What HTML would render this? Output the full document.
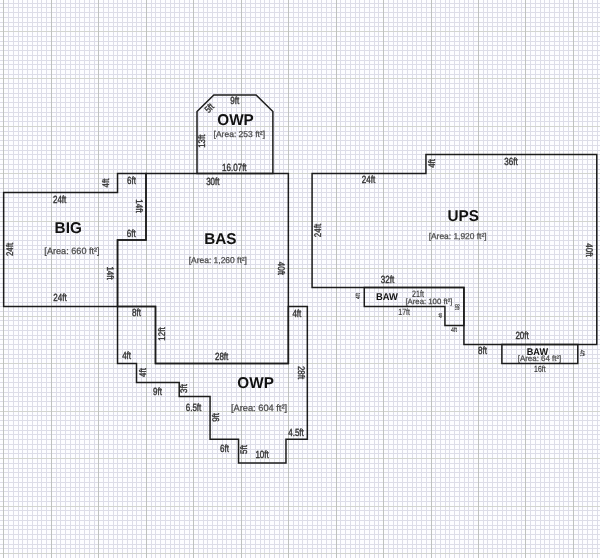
<!DOCTYPE html>
<html><head><meta charset="utf-8"><style>
html,body{margin:0;padding:0;background:#fff;}
body{width:600px;height:558px;overflow:hidden;}
svg{display:block;will-change:transform;}
text{font-family:"Liberation Sans",sans-serif;text-rendering:geometricPrecision;}
.b{font-weight:bold;fill:#111111}.a{fill:#444444;stroke:#555;stroke-width:0.25px}.n{fill:#333333;stroke:#333;stroke-width:0.3px}
</style></head><body>
<svg width="600" height="558" viewBox="0 0 600 558">
<rect width="600" height="558" fill="#fdfdff"/>
<path d="M8.50 0V558M13.50 0V558M18.50 0V558M22.50 0V558M27.50 0V558M32.50 0V558M37.50 0V558M41.50 0V558M46.50 0V558M56.50 0V558M60.50 0V558M65.50 0V558M70.50 0V558M75.50 0V558M79.50 0V558M84.50 0V558M89.50 0V558M94.50 0V558M103.50 0V558M108.50 0V558M113.50 0V558M117.50 0V558M122.50 0V558M127.50 0V558M132.50 0V558M136.50 0V558M141.50 0V558M151.50 0V558M155.50 0V558M160.50 0V558M165.50 0V558M170.50 0V558M174.50 0V558M179.50 0V558M184.50 0V558M189.50 0V558M198.50 0V558M203.50 0V558M207.50 0V558M212.50 0V558M217.50 0V558M222.50 0V558M226.50 0V558M231.50 0V558M236.50 0V558M245.50 0V558M250.50 0V558M255.50 0V558M260.50 0V558M264.50 0V558M269.50 0V558M274.50 0V558M279.50 0V558M283.50 0V558M293.50 0V558M298.50 0V558M302.50 0V558M307.50 0V558M312.50 0V558M317.50 0V558M321.50 0V558M326.50 0V558M331.50 0V558M340.50 0V558M345.50 0V558M350.50 0V558M355.50 0V558M359.50 0V558M364.50 0V558M369.50 0V558M374.50 0V558M378.50 0V558M388.50 0V558M393.50 0V558M397.50 0V558M402.50 0V558M407.50 0V558M412.50 0V558M416.50 0V558M421.50 0V558M426.50 0V558M435.50 0V558M440.50 0V558M445.50 0V558M449.50 0V558M454.50 0V558M459.50 0V558M464.50 0V558M468.50 0V558M473.50 0V558M483.50 0V558M487.50 0V558M492.50 0V558M497.50 0V558M502.50 0V558M506.50 0V558M511.50 0V558M516.50 0V558M521.50 0V558M530.50 0V558M535.50 0V558M540.50 0V558M544.50 0V558M549.50 0V558M554.50 0V558M559.50 0V558M563.50 0V558M568.50 0V558M578.50 0V558M582.50 0V558M587.50 0V558M592.50 0V558M597.50 0V558M0 3.50H600M0 7.50H600M0 12.50H600M0 17.50H600M0 22.50H600M0 26.50H600M0 36.50H600M0 41.50H600M0 45.50H600M0 50.50H600M0 55.50H600M0 60.50H600M0 64.50H600M0 69.50H600M0 74.50H600M0 83.50H600M0 88.50H600M0 93.50H600M0 97.50H600M0 102.50H600M0 107.50H600M0 112.50H600M0 116.50H600M0 121.50H600M0 131.50H600M0 135.50H600M0 140.50H600M0 145.50H600M0 150.50H600M0 154.50H600M0 159.50H600M0 164.50H600M0 169.50H600M0 178.50H600M0 183.50H600M0 188.50H600M0 192.50H600M0 197.50H600M0 202.50H600M0 207.50H600M0 211.50H600M0 216.50H600M0 226.50H600M0 230.50H600M0 235.50H600M0 240.50H600M0 245.50H600M0 249.50H600M0 254.50H600M0 259.50H600M0 264.50H600M0 273.50H600M0 278.50H600M0 283.50H600M0 287.50H600M0 292.50H600M0 297.50H600M0 302.50H600M0 306.50H600M0 311.50H600M0 320.50H600M0 325.50H600M0 330.50H600M0 335.50H600M0 339.50H600M0 344.50H600M0 349.50H600M0 354.50H600M0 358.50H600M0 368.50H600M0 373.50H600M0 377.50H600M0 382.50H600M0 387.50H600M0 392.50H600M0 396.50H600M0 401.50H600M0 406.50H600M0 415.50H600M0 420.50H600M0 425.50H600M0 430.50H600M0 434.50H600M0 439.50H600M0 444.50H600M0 449.50H600M0 453.50H600M0 463.50H600M0 468.50H600M0 472.50H600M0 477.50H600M0 482.50H600M0 487.50H600M0 491.50H600M0 496.50H600M0 501.50H600M0 510.50H600M0 515.50H600M0 520.50H600M0 525.50H600M0 529.50H600M0 534.50H600M0 539.50H600M0 544.50H600M0 548.50H600M0 558.50H600" stroke="#dddde8" stroke-width="1.00" fill="none"/>
<path d="M0 31.50H600M0 78.50H600M0 126.50H600M0 173.50H600M0 221.50H600M0 268.50H600M0 316.50H600M0 363.50H600M0 411.50H600M0 458.50H600M0 506.50H600M0 553.50H600" stroke="#d3d5cf" stroke-width="1" fill="none"/>
<path d="M3.50 0V558M51.50 0V558M98.50 0V558M146.50 0V558M193.50 0V558M241.50 0V558M288.50 0V558M336.50 0V558M383.50 0V558M431.50 0V558M478.50 0V558M525.50 0V558M573.50 0V558" stroke="#bfc2bf" stroke-width="1" fill="none"/>
<g fill="none" stroke="#1c1c1c" stroke-width="1.5" stroke-linejoin="miter">
<polygon points="3.65,192.58 117.53,192.58 117.53,173.60 146.00,173.60 146.00,240.03 117.53,240.03 117.53,306.46 3.65,306.46"/>
<polygon points="146.00,173.60 288.35,173.60 288.35,363.40 155.49,363.40 155.49,306.46 117.53,306.46 117.53,240.03 146.00,240.03"/>
<polygon points="197.01,173.60 197.01,111.44 213.85,94.88 256.08,94.88 272.88,111.44 272.88,173.60"/>
<polygon points="117.53,306.46 117.53,363.40 136.51,363.40 136.51,382.38 179.22,382.38 179.22,396.62 210.06,396.62 210.06,439.32 238.53,439.32 238.53,463.04 285.98,463.04 285.98,439.32 307.33,439.32 307.33,306.46 288.35,306.46 288.35,363.40 155.49,363.40 155.49,306.46"/>
<polygon points="312.08,173.60 425.95,173.60 425.95,154.62 596.78,154.62 596.78,344.42 463.92,344.42 463.92,287.48 312.08,287.48"/>
<polygon points="364.27,287.48 463.92,287.48 463.92,325.44 444.94,325.44 444.94,306.46 364.27,306.46"/>
<polygon points="501.88,344.42 577.80,344.42 577.80,363.40 501.88,363.40"/>
</g>
<text class="n" font-size="8.00" text-anchor="middle" dominant-baseline="central" transform="translate(234.78 101.16) scale(1 1.300)">9ft</text>
<text class="n" font-size="8.00" text-anchor="middle" dominant-baseline="central" transform="translate(209.43 108.26) rotate(-45) scale(1 1.200)">5ft</text>
<text class="b" font-size="15.30" text-anchor="middle" dominant-baseline="central" transform="translate(235.53 120.19) scale(1 1.020)">OWP</text>
<text class="a" font-size="8.51" text-anchor="middle" dominant-baseline="central" transform="translate(239.31 134.21)">[Area: 253 ft²]</text>
<text class="n" font-size="8.00" text-anchor="middle" dominant-baseline="central" transform="translate(202.21 141.17) rotate(-90) scale(1 1.200)">13ft</text>
<text class="n" font-size="8.00" text-anchor="middle" dominant-baseline="central" transform="translate(234.34 167.97) scale(1 1.300)">16.07ft</text>
<text class="n" font-size="8.00" text-anchor="middle" dominant-baseline="central" transform="translate(212.84 181.81) scale(1 1.300)">30ft</text>
<text class="n" font-size="8.00" text-anchor="middle" dominant-baseline="central" transform="translate(105.97 182.97) rotate(-90) scale(1 1.200)">4ft</text>
<text class="n" font-size="8.00" text-anchor="middle" dominant-baseline="central" transform="translate(131.50 180.71) scale(1 1.300)">6ft</text>
<text class="n" font-size="8.00" text-anchor="middle" dominant-baseline="central" transform="translate(59.62 199.74) scale(1 1.300)">24ft</text>
<text class="n" font-size="8.00" text-anchor="middle" dominant-baseline="central" transform="translate(139.00 206.03) rotate(90) scale(1 1.200)">14ft</text>
<text class="b" font-size="15.30" text-anchor="middle" dominant-baseline="central" transform="translate(68.19 228.64) scale(1 1.020)">BIG</text>
<text class="a" font-size="9.14" text-anchor="middle" dominant-baseline="central" transform="translate(72.00 250.55)">[Area: 660 ft²]</text>
<text class="n" font-size="8.00" text-anchor="middle" dominant-baseline="central" transform="translate(10.16 249.45) rotate(-90) scale(1 1.200)">24ft</text>
<text class="n" font-size="8.00" text-anchor="middle" dominant-baseline="central" transform="translate(131.31 233.50) scale(1 1.300)">6ft</text>
<text class="b" font-size="15.30" text-anchor="middle" dominant-baseline="central" transform="translate(220.31 239.52) scale(1 1.020)">BAS</text>
<text class="a" font-size="8.46" text-anchor="middle" dominant-baseline="central" transform="translate(217.81 259.53)">[Area: 1,260 ft²]</text>
<text class="n" font-size="8.00" text-anchor="middle" dominant-baseline="central" transform="translate(281.07 268.41) rotate(90) scale(1 1.200)">40ft</text>
<text class="n" font-size="8.00" text-anchor="middle" dominant-baseline="central" transform="translate(110.21 273.05) rotate(90) scale(1 1.200)">14ft</text>
<text class="n" font-size="8.00" text-anchor="middle" dominant-baseline="central" transform="translate(59.93 298.22) scale(1 1.300)">24ft</text>
<text class="n" font-size="8.00" text-anchor="middle" dominant-baseline="central" transform="translate(136.50 313.00) scale(1 1.300)">8ft</text>
<text class="n" font-size="8.00" text-anchor="middle" dominant-baseline="central" transform="translate(162.00 334.00) rotate(-90) scale(1 1.200)">12ft</text>
<text class="n" font-size="8.00" text-anchor="middle" dominant-baseline="central" transform="translate(296.83 313.88) scale(1 1.300)">4ft</text>
<text class="n" font-size="8.00" text-anchor="middle" dominant-baseline="central" transform="translate(126.62 355.76) scale(1 1.300)">4ft</text>
<text class="n" font-size="8.00" text-anchor="middle" dominant-baseline="central" transform="translate(221.62 356.33) scale(1 1.300)">28ft</text>
<text class="n" font-size="8.00" text-anchor="middle" dominant-baseline="central" transform="translate(300.62 372.55) rotate(90) scale(1 1.200)">28ft</text>
<text class="n" font-size="8.00" text-anchor="middle" dominant-baseline="central" transform="translate(142.90 372.50) rotate(-90) scale(1 1.200)">4ft</text>
<text class="b" font-size="15.30" text-anchor="middle" dominant-baseline="central" transform="translate(255.62 383.90) scale(1 1.020)">OWP</text>
<text class="n" font-size="8.00" text-anchor="middle" dominant-baseline="central" transform="translate(157.43 391.45) scale(1 1.300)">9ft</text>
<text class="n" font-size="8.00" text-anchor="middle" dominant-baseline="central" transform="translate(184.43 388.50) rotate(-90) scale(1 1.200)">3ft</text>
<text class="n" font-size="8.00" text-anchor="middle" dominant-baseline="central" transform="translate(193.50 407.95) scale(1 1.300)">6.5ft</text>
<text class="a" font-size="9.29" text-anchor="middle" dominant-baseline="central" transform="translate(259.00 408.31)">[Area: 604 ft²]</text>
<text class="n" font-size="8.00" text-anchor="middle" dominant-baseline="central" transform="translate(216.12 417.38) rotate(-90) scale(1 1.200)">9ft</text>
<text class="n" font-size="8.00" text-anchor="middle" dominant-baseline="central" transform="translate(296.00 432.28) scale(1 1.300)">4.5ft</text>
<text class="n" font-size="8.00" text-anchor="middle" dominant-baseline="central" transform="translate(224.50 448.90) scale(1 1.300)">6ft</text>
<text class="n" font-size="8.00" text-anchor="middle" dominant-baseline="central" transform="translate(244.05 449.50) rotate(-90) scale(1 1.200)">5ft</text>
<text class="n" font-size="8.00" text-anchor="middle" dominant-baseline="central" transform="translate(262.05 455.00) scale(1 1.300)">10ft</text>
<text class="n" font-size="8.00" text-anchor="middle" dominant-baseline="central" transform="translate(432.45 163.38) rotate(-90) scale(1 1.200)">4ft</text>
<text class="n" font-size="8.00" text-anchor="middle" dominant-baseline="central" transform="translate(511.00 161.26) scale(1 1.300)">36ft</text>
<text class="n" font-size="8.00" text-anchor="middle" dominant-baseline="central" transform="translate(368.52 179.97) scale(1 1.300)">24ft</text>
<text class="b" font-size="15.30" text-anchor="middle" dominant-baseline="central" transform="translate(463.10 215.95) scale(1 1.020)">UPS</text>
<text class="a" font-size="8.41" text-anchor="middle" dominant-baseline="central" transform="translate(457.62 235.81)">[Area: 1,920 ft²]</text>
<text class="n" font-size="8.00" text-anchor="middle" dominant-baseline="central" transform="translate(318.17 230.48) rotate(-90) scale(1 1.200)">24ft</text>
<text class="n" font-size="8.00" text-anchor="middle" dominant-baseline="central" transform="translate(589.02 250.00) rotate(90) scale(1 1.200)">40ft</text>
<text class="n" font-size="8.00" text-anchor="middle" dominant-baseline="central" transform="translate(387.52 280.00) scale(1 1.300)">32ft</text>
<text class="b" font-size="9.40" text-anchor="middle" dominant-baseline="central" transform="translate(387.00 296.17) scale(1 1.060)">BAW</text>
<text style="stroke-width:0.12px" class="n" font-size="7.11" text-anchor="middle" dominant-baseline="central" transform="translate(417.93 294.33) scale(1 1.300)">21ft</text>
<text class="a" font-size="7.77" text-anchor="middle" dominant-baseline="central" transform="translate(428.93 301.17)">[Area: 100 ft²]</text>
<text style="stroke-width:0.12px" class="n" font-size="5.32" text-anchor="middle" dominant-baseline="central" transform="translate(358.97 296.00) rotate(-90) scale(1 1.200)">4ft</text>
<text style="stroke-width:0.12px" class="n" font-size="5.32" text-anchor="middle" dominant-baseline="central" transform="translate(456.55 307.00) rotate(90) scale(1 1.200)">8ft</text>
<text style="stroke-width:0.12px" class="n" font-size="6.94" text-anchor="middle" dominant-baseline="central" transform="translate(404.12 313.02) scale(1 1.300)">17ft</text>
<text style="stroke-width:0.12px" class="n" font-size="3.97" text-anchor="middle" dominant-baseline="central" transform="translate(440.64 315.50) rotate(-90) scale(1 1.200)">4ft</text>
<text style="stroke-width:0.12px" class="n" font-size="5.32" text-anchor="middle" dominant-baseline="central" transform="translate(454.00 330.73) scale(1 1.300)">4ft</text>
<text class="n" font-size="8.00" text-anchor="middle" dominant-baseline="central" transform="translate(522.05 336.02) scale(1 1.300)">20ft</text>
<text class="n" font-size="8.00" text-anchor="middle" dominant-baseline="central" transform="translate(482.53 351.22) scale(1 1.300)">8ft</text>
<text class="b" font-size="9.15" text-anchor="middle" dominant-baseline="central" transform="translate(537.38 352.23) scale(1 1.060)">BAW</text>
<text class="a" font-size="7.92" text-anchor="middle" dominant-baseline="central" transform="translate(539.50 358.22)">[Area: 64 ft²]</text>
<text style="stroke-width:0.12px" class="n" font-size="6.91" text-anchor="middle" dominant-baseline="central" transform="translate(539.81 370.28) scale(1 1.300)">16ft</text>
<text style="stroke-width:0.12px" class="n" font-size="5.82" text-anchor="middle" dominant-baseline="central" transform="translate(580.96 352.93) rotate(90) scale(1 1.200)">4ft</text>
</svg>
</body></html>
